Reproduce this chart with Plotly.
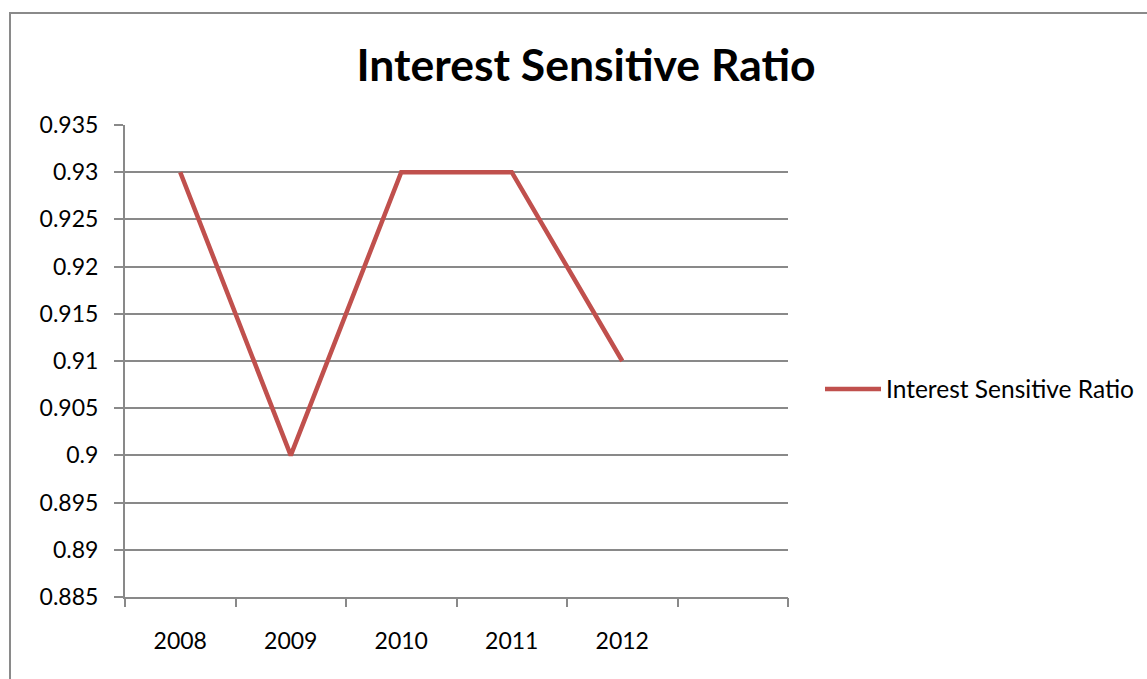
import plotly.graph_objects as go

# Interest sensitive ratio by year
years = ["2008", "2009", "2010", "2011", "2012"]
ratio = [0.93, 0.90, 0.93, 0.93, 0.91]
y_ticks = [0.885, 0.89, 0.895, 0.9, 0.905, 0.91, 0.915, 0.92, 0.925, 0.93, 0.935]
y_tick_text = ["0.885", "0.89", "0.895", "0.9", "0.905", "0.91", "0.915", "0.92", "0.925", "0.93", "0.935"]
n_slots = 6  # category slots on the x axis (last one left empty)

W, H = 1147, 679
FONT = "Lato"
GRID = "#898989"
RED = "#C0504D"

x_pos = list(range(len(years)))
x_range = [-0.5, n_slots - 0.5]
boundaries = [i - 0.5 for i in range(n_slots + 1)]

fig = go.Figure()
fig.add_trace(go.Scatter(
    x=x_pos, y=ratio, mode="lines", name="Interest Sensitive Ratio",
    line=dict(color=RED, width=4.5),
))
# invisible trace carrying the boundary tick axis
fig.add_trace(go.Scatter(x=[x_range[0]], y=[y_ticks[0]], xaxis="x2", mode="markers",
                         marker=dict(opacity=0), showlegend=False, hoverinfo="skip"))

dom_x = [125 / W, 788 / W]
dom_y = [1 - 597 / H, 1 - 125 / H]

fig.update_layout(
    width=W, height=H,
    margin=dict(l=0, r=0, t=0, b=0, pad=0, autoexpand=False),
    paper_bgcolor="white", plot_bgcolor="white",
    font=dict(family=FONT, size=23, color="black"),
    title=dict(text="<b>Interest Sensitive Ratio</b>", x=586 / W, xanchor="center",
               y=1 - 65 / H, yanchor="middle", font=dict(family=FONT, size=44.5, color="black")),
    xaxis=dict(domain=dom_x, range=x_range, tickvals=x_pos, ticktext=years,
               ticks="", showgrid=False, zeroline=False, showline=True, automargin=False,
               linecolor=GRID, linewidth=2, anchor="y", ticklabelstandoff=22),
    xaxis2=dict(domain=dom_x, range=x_range, overlaying="x", anchor="y", side="bottom",
                tickvals=boundaries, showticklabels=False, ticks="outside", ticklen=9,
                tickwidth=2, tickcolor=GRID, showgrid=False, zeroline=False,
                showline=False, automargin=False),
    yaxis=dict(domain=dom_y, range=[y_ticks[0], y_ticks[-1]], tickvals=y_ticks,
               ticktext=y_tick_text, ticks="outside", ticklen=9, tickwidth=2,
               tickcolor=GRID, showgrid=True, gridcolor=GRID, gridwidth=2,
               zeroline=False, showline=True, linecolor=GRID, linewidth=2,
               automargin=False, ticklabelstandoff=11),
    legend=dict(x=820 / W, xanchor="left", y=1 - 389 / H, yanchor="middle",
                bgcolor="rgba(0,0,0,0)", itemwidth=56, font=dict(family=FONT, size=24.5)),
    showlegend=True,
    shapes=[dict(type="path", xref="paper", yref="paper",
                 path=f"M {10 / W},0 L {10 / W},{1 - 13 / H} L 1,{1 - 13 / H}",
                 line=dict(color="#8a8a8a", width=2))],
)

fig.write_html("out.html")
